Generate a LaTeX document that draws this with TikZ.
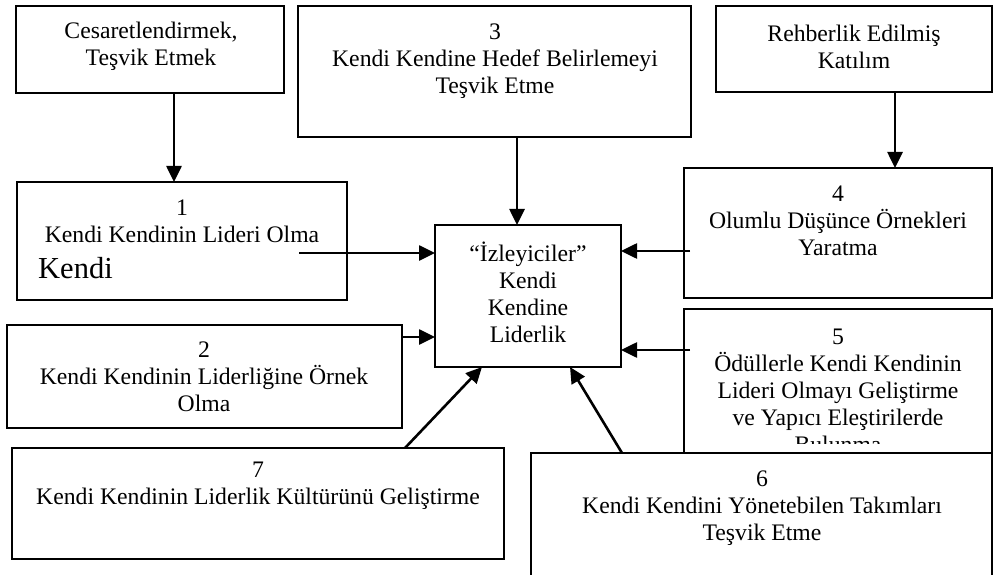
\documentclass[tikz,border=0pt]{standalone}
\usepackage{fontspec}
\setmainfont{Liberation Serif}
\usetikzlibrary{arrows.meta,fit}
\begin{document}
\begin{tikzpicture}[x=1pt,y=-1pt,
  box/.style={draw, line width=2.4pt, fill=white, inner sep=0pt, outer sep=0pt},
  txt/.style={align=center, inner sep=0pt, font=\fontsize{23.7}{27}\selectfont},
  conn/.style={line width=2.6pt, -{Triangle[length=16pt,width=15pt]}}]
\useasboundingbox (0,0) rectangle (994,575);
\clip (0,0) rectangle (994,575);

% boxes
\node[box, fit={(16,6) (284,93)}]    (enc) {};
\node[box, fit={(298,6) (691,137)}]  (goal) {};
\node[box, fit={(716,6) (992,92)}]   (guide) {};
\node[box, fit={(17,182) (347,300)}] (lead) {};
\node[box, fit={(435,225) (621,367)}] (core) {};
\node[box, fit={(684,168) (992,298)}] (think) {};
\node[box, fit={(7,325) (402,428)}]  (model) {};
\node[box, fit={(684,309) (992,453)}] (reward) {};
\node[box, fit={(12,448) (504,559)}] (culture) {};

% text of box 5, cut off at its lower part
\begin{scope}
  \clip (684,309) rectangle (992,443);
  \node[txt] (rewardtxt) at (838,391) {5\\Ödüllerle Kendi Kendinin\\Lideri Olmayı Geliştirme\\ve Yapıcı Eleştirilerde\\Bulunma};
\end{scope}

\node[box, fit={(531,453) (992,600)}] (teams) {};

% texts
\node[txt] (enctxt)   at (151,46)   {Cesaretlendirmek,\\Teşvik Etmek};
\node[txt] (goaltxt)  at (495,61)   {3\\Kendi Kendine Hedef Belirlemeyi\\Teşvik Etme};
\node[txt] (guidetxt) at (854,47)   {Rehberlik Edilmiş\\Katılım};
\node[txt] (leadtxt)  at (182,221)  {1\\Kendi Kendinin Lideri Olma};
\node[inner sep=0pt, anchor=base west, font=\fontsize{30.5}{34}\selectfont] (leadextra) at (38,278) {Kendi};
\node[txt] (coretxt)  at (528,292)  {“İzleyiciler”\\Kendi\\Kendine\\Liderlik};
\node[txt] (thinktxt) at (838,221)  {4\\Olumlu Düşünce Örnekleri\\Yaratma};
\node[txt] (modeltxt) at (204,377)  {2\\Kendi Kendinin Liderliğine Örnek\\Olma};
\node[txt] (culturetxt) at (258,486) {7\\Kendi Kendinin Liderlik Kültürünü Geliştirme};
\node[txt] (teamstxt) at (762,508)  {6\\Kendi Kendini Yönetebilen Takımları\\Teşvik Etme};

% connector anchors
\coordinate (xa) at (174,0);
\coordinate (xg) at (517,0);
\coordinate (xr) at (895,0);
\coordinate (s1) at (299,253);
\coordinate (s2) at (402,337);
\coordinate (s4) at (690,251);
\coordinate (s5) at (690,350);
\coordinate (x7) at (405,0);
\coordinate (e7) at (482,0);
\coordinate (x6) at (622,0);
\coordinate (e6) at (570,0);

% connectors
\draw[conn] (enc.south -| xa) -- (lead.north -| xa);
\draw[conn] (goal.south -| xg) -- (core.north -| xg);
\draw[conn] (guide.south -| xr) -- (think.north -| xr);
\draw[conn] (s1) -- (s1 -| core.west);
\draw[conn] (s2) -- (s2 -| core.west);
\draw[conn] (s4) -- (s4 -| core.east);
\draw[conn] (s5) -- (s5 -| core.east);
\draw[conn] (culture.north -| x7) -- (core.south -| e7);
\draw[conn] (teams.north -| x6) -- (core.south -| e6);
\end{tikzpicture}
\end{document}
